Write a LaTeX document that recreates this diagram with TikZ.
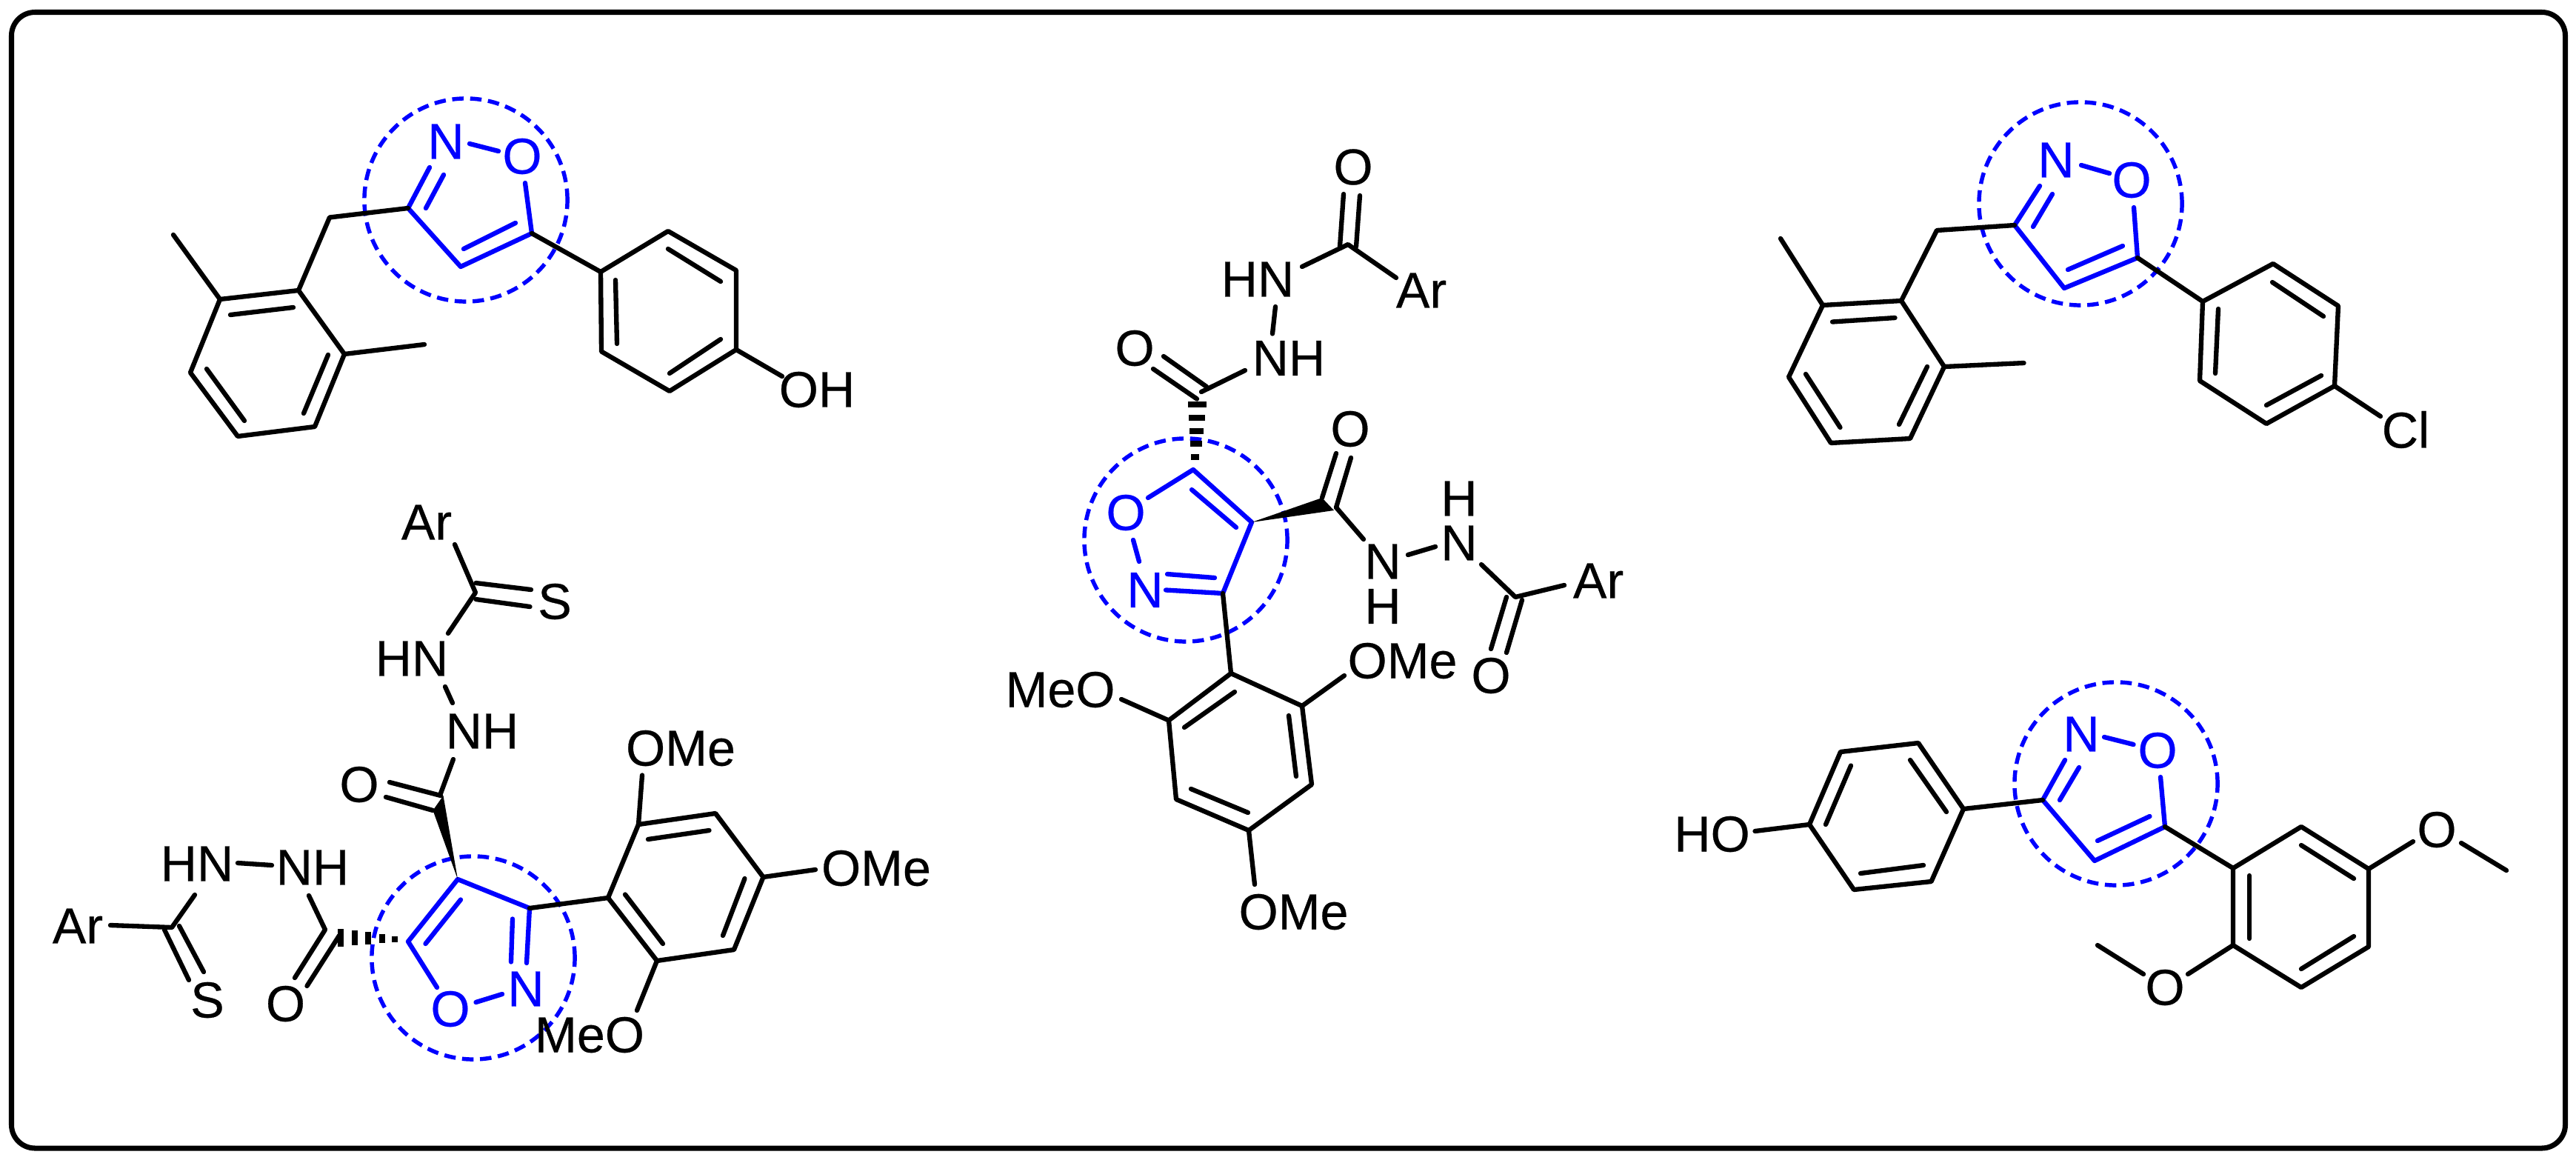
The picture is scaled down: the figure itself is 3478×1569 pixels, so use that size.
\documentclass[tikz,border=0pt]{standalone}
\usepackage{fontspec}
\setmainfont{Liberation Sans}[FakeBold=0.4]
\definecolor{ringblue}{RGB}{0,0,255}
\tikzset{
  bond/.style={line width=1.8pt,line cap=round,line join=round,draw=black},
  rbond/.style={line width=1.8pt,line cap=round,line join=round,draw=ringblue},
  ringmark/.style={line width=1.55pt,draw=ringblue,dash pattern=on 4.4pt off 2.5pt},
  hashbar/.style={line width=2.1pt,draw=black},
  atomk/.style={inner sep=0pt,outer sep=0pt,text=black,font=\fontsize{19.4pt}{19.4pt}\selectfont},
  atomb/.style={atomk,text=ringblue},
  frame/.style={line width=2pt,draw=black,rounded corners=9pt}
}
\begin{document}
\begin{tikzpicture}[x=0.01cm,y=-0.01cm]
\useasboundingbox (0,0) rectangle (3478,1569);
\draw[frame] (15.5,16.5) rectangle (3463.5,1550);

% ---------- dashed rings
\node[ringmark,circle,minimum size=2.74cm,inner sep=0pt] (ra) at (629,270) {};
\node[ringmark,circle,minimum size=2.74cm,inner sep=0pt] (rb) at (639,1293) {};
\node[ringmark,circle,minimum size=2.74cm,inner sep=0pt] (rc) at (1601,729) {};
\node[ringmark,circle,minimum size=2.74cm,inner sep=0pt] (rd) at (2809,275) {};
\node[ringmark,circle,minimum size=2.74cm,inner sep=0pt] (re) at (2857,1058) {};

% ---------- A: top-left molecule
\node[atomb] (aN) at (602,191) {N};
\node[atomb] (aO) at (705,211) {O};
\node[atomk] (aOH) at (1103,526) {OH};
\path (551,281) coordinate (a3) (718,315) coordinate (a5) (622,360) coordinate (a4)
 (445,293.5) coordinate (ach) (403,392) coordinate (a11) (297,404) coordinate (a12)
 (257,503) coordinate (a13) (321,589) coordinate (a14) (425,576) coordinate (a15)
 (465,478) coordinate (a16) (234,317) coordinate (ame1) (573,465) coordinate (ame2)
 (811,367) coordinate (a21) (902,312) coordinate (a22) (994,365) coordinate (a23)
 (994,472) coordinate (a24) (904,528) coordinate (a25) (812,474.5) coordinate (a26)
 (1056,508) coordinate (aoe)
 (634,194) coordinate (ano1) (673,204) coordinate (ano2)
 (580,226) coordinate (acn1) (575,281) coordinate (acn2) (599,236) coordinate (acn3)
 (709,247) coordinate (aoc)
 (626,336) coordinate (acc1) (696,301) coordinate (acc2)
 (311,425) coordinate (ai1) (396,415) coordinate (ai2)
 (279,498) coordinate (ai3) (330,568) coordinate (ai4)
 (410,558) coordinate (ai5) (443,479) coordinate (ai6)
 (902,336) coordinate (ai7) (973,380) coordinate (ai8)
 (831,378) coordinate (ai9) (833,464) coordinate (ai10)
 (904,504) coordinate (ai11) (973,458) coordinate (ai12);
\draw[rbond] (acn1) -- (a3) -- (a4) -- (a5) -- (aoc);
\draw[rbond] (acn2) -- (acn3);
\draw[rbond] (acc1) -- (acc2);
\draw[rbond] (ano1) -- (ano2);
\draw[bond] (a3) -- (ach) -- (a11) -- (a12) -- (a13) -- (a14) -- (a15) -- (a16) -- (a11);
\draw[bond] (a12) -- (ame1);
\draw[bond] (a16) -- (ame2);
\draw[bond] (ai1) -- (ai2);
\draw[bond] (ai3) -- (ai4);
\draw[bond] (ai5) -- (ai6);
\draw[bond] (a5) -- (a21) -- (a22) -- (a23) -- (a24) -- (a25) -- (a26) -- (a21);
\draw[bond] (a24) -- (aoe);
\draw[bond] (ai7) -- (ai8);
\draw[bond] (ai9) -- (ai10);
\draw[bond] (ai11) -- (ai12);

% ---------- B: bottom-left molecule
\node[atomk] (bAr1) at (576,705) {Ar};
\node[atomk] (bS1) at (749,812) {S};
\node[atomk] (bHN1) at (556,889) {HN};
\node[atomk] (bNH1) at (651,987) {NH};
\node[atomk] (bO1) at (485,1059) {O};
\node[atomk] (bHN2) at (266,1166) {HN};
\node[atomk] (bNH2) at (422,1171) {NH};
\node[atomk] (bAr2) at (105,1250) {Ar};
\node[atomk] (bS2) at (280,1350) {S};
\node[atomk] (bO2) at (385.5,1355) {O};
\node[atomb] (bN) at (710,1335) {N};
\node[atomb] (bO) at (608,1362) {O};
\node[atomk] (bOMe1) at (919,1010) {OMe};
\node[atomk] (bOMe2) at (1183,1172) {OMe};
\node[atomk] (bMeO) at (796,1397) {MeO};
\path (618,1187) coordinate (b4) (715,1226) coordinate (b3) (551,1271) coordinate (b5)
 (711,1300) coordinate (bcn1) (692,1240.5) coordinate (bcn2) (690,1298.5) coordinate (bcn3)
 (642.5,1353) coordinate (bno1) (678,1342) coordinate (bno2)
 (590,1333) coordinate (boc)
 (622,1214.5) coordinate (bcc1) (574.5,1274) coordinate (bcc2)
 (614,735) coordinate (bt1) (642,800) coordinate (btc)
 (642.5,787) coordinate (bs1) (717,796) coordinate (bs2)
 (642.5,809) coordinate (bs3) (715.5,819) coordinate (bs4)
 (605,855) coordinate (bt2) (601,927) coordinate (bt3) (611,949) coordinate (bt4)
 (612,1025) coordinate (bt5) (595,1071) coordinate (bt6)
 (526,1056) coordinate (bo1) (595,1074) coordinate (bo2)
 (521,1076) coordinate (bo3) (584.5,1094) coordinate (bo4)
 (598.5,1074) coordinate (bw1)
 (417,1209) coordinate (bl1) (439,1255) coordinate (bl2)
 (398,1320) coordinate (bp1) (458,1263) coordinate (bp2) (414.5,1331) coordinate (bp3)
 (321,1165) coordinate (bl3) (367,1168) coordinate (bl4)
 (263,1208) coordinate (bl5) (232,1252) coordinate (blc) (149,1249) coordinate (bl6)
 (242,1250) coordinate (bq1) (275,1312) coordinate (bq2)
 (222,1255) coordinate (bq3) (255,1323) coordinate (bq4)
 (821,1212) coordinate (b21) (862,1113) coordinate (b22) (966,1098) coordinate (b23)
 (1030.5,1184) coordinate (b24) (991,1282) coordinate (b25) (887,1297) coordinate (b26)
 (875,1133) coordinate (bi1) (957.5,1121) coordinate (bi2)
 (1005.5,1186) coordinate (bi3) (976,1263) coordinate (bi4)
 (895,1274) coordinate (bi5) (844,1207.5) coordinate (bi6)
 (867,1046.5) coordinate (bm1) (1101,1174) coordinate (bm2) (860,1364) coordinate (bm3);
\draw[rbond] (bcn1) -- (b3) -- (b4) -- (b5) -- (boc);
\draw[rbond] (bcn2) -- (bcn3);
\draw[rbond] (bcc1) -- (bcc2);
\draw[rbond] (bno1) -- (bno2);
\fill[black] (b4) -- (bw1) -- (bo4) -- cycle;
\draw[bond] (bt1) -- (btc) -- (bt2);
\draw[bond] (bs1) -- (bs2);
\draw[bond] (bs3) -- (bs4);
\draw[bond] (bt3) -- (bt4);
\draw[bond] (bt5) -- (bt6);
\draw[bond] (bo1) -- (bo2);
\draw[bond] (bo3) -- (bo4);
\draw[bond] (bl1) -- (bl2) -- (bp1);
\draw[bond] (bp2) -- (bp3);
\draw[bond] (bl3) -- (bl4);
\draw[bond] (bl5) -- (blc) -- (bl6);
\draw[bond] (bq1) -- (bq2);
\draw[bond] (bq3) -- (bq4);
\draw[hashbar] (460,1254) -- (460,1278);
\draw[hashbar] (479,1256) -- (479,1276);
\draw[hashbar] (497,1258) -- (497,1275);
\draw[hashbar] (516,1261) -- (516,1273);
\draw[hashbar] (533,1264) -- (533,1272);
\draw[bond] (b3) -- (b21) -- (b22) -- (b23) -- (b24) -- (b25) -- (b26) -- (b21);
\draw[bond] (bi1) -- (bi2);
\draw[bond] (bi3) -- (bi4);
\draw[bond] (bi5) -- (bi6);
\draw[bond] (b22) -- (bm1);
\draw[bond] (b24) -- (bm2);
\draw[bond] (b26) -- (bm3);

% ---------- C: centre molecule
\node[atomk] (cO1) at (1827,225.5) {O};
\node[atomk] (cAr1) at (1919,392) {Ar};
\node[atomk] (cHN) at (1698,377) {HN};
\node[atomk] (cNH) at (1740,483.5) {NH};
\node[atomk] (cO2) at (1532,470) {O};
\node[atomk] (cO3) at (1823,579) {O};
\node[atomk] (cN1) at (1867,758) {N};
\node[atomk] (cH1) at (1867,818.5) {H};
\node[atomk] (cN2) at (1970,733) {N};
\node[atomk] (cH2) at (1970,673) {H};
\node[atomk] (cAr2) at (2158,784) {Ar};
\node[atomk] (cO4) at (2013,912) {O};
\node[atomb] (cO) at (1520,692) {O};
\node[atomb] (cN) at (1546,796.5) {N};
\node[atomk] (cOMe1) at (1893.5,892) {OMe};
\node[atomk] (cMeO) at (1431.5,931) {MeO};
\node[atomk] (cOMe2) at (1746.5,1231) {OMe};
\path (1611,634) coordinate (c5) (1651,801) coordinate (c3) (1690,705) coordinate (c4)
 (1550,672) coordinate (coc) (1530,729) coordinate (cno1) (1538,758) coordinate (cno2)
 (1574,796.5) coordinate (ccn1) (1576,775) coordinate (ccn2) (1640,780) coordinate (ccn3)
 (1609,661) coordinate (ccc1) (1669,712) coordinate (ccc2)
 (1814,262) coordinate (cd1) (1809,333) coordinate (cd2)
 (1836,264) coordinate (cd3) (1831,333) coordinate (cd4)
 (1820,330) coordinate (cc1) (1885,375) coordinate (ce1) (1758,360) coordinate (ce2)
 (1722,414) coordinate (ce3) (1718,450.5) coordinate (ce4)
 (1681,500) coordinate (ce5) (1622,529) coordinate (ce6)
 (1571,481) coordinate (cf1) (1629,522) coordinate (cf2)
 (1557,498) coordinate (cf3) (1616,538.5) coordinate (cf4)
 (1785,672) coordinate (cw1) (1801,689) coordinate (cw2)
 (1804,612) coordinate (cg1) (1824,618) coordinate (cg2) (1804,685) coordinate (cg3)
 (1841,728) coordinate (ch1) (1901,749) coordinate (ch2) (1938,738) coordinate (ch3)
 (2000,762) coordinate (ch4) (2046,806) coordinate (cc2) (2112,790) coordinate (ch5)
 (2034,806) coordinate (cj1) (2013,876) coordinate (cj2)
 (2055,810) coordinate (cj3) (2034,881) coordinate (cj4)
 (1662,909) coordinate (c21) (1758,953) coordinate (c22) (1771,1059) coordinate (c23)
 (1686,1121) coordinate (c24) (1588,1079) coordinate (c25) (1578,972.5) coordinate (c26)
 (1667,934) coordinate (ci1) (1599,982) coordinate (ci2)
 (1740,966) coordinate (ci3) (1750,1048) coordinate (ci4)
 (1685,1097) coordinate (ci5) (1608,1065) coordinate (ci6)
 (1815,912) coordinate (cm1) (1514,944) coordinate (cm2) (1694,1194) coordinate (cm3);
\draw[rbond] (coc) -- (c5) -- (c4) -- (c3) -- (ccn1);
\draw[rbond] (ccn2) -- (ccn3);
\draw[rbond] (ccc1) -- (ccc2);
\draw[rbond] (cno1) -- (cno2);
\fill[black] (c4) -- (cw1) -- (cw2) -- cycle;
\draw[hashbar] (1604,546) -- (1629,546);
\draw[hashbar] (1605,564) -- (1627,564);
\draw[hashbar] (1606,582) -- (1625,582);
\draw[hashbar] (1607,599) -- (1623,599);
\draw[hashbar] (1608,617) -- (1619,617);
\draw[bond] (cd1) -- (cd2);
\draw[bond] (cd3) -- (cd4);
\draw[bond] (ce1) -- (cc1) -- (ce2);
\draw[bond] (ce3) -- (ce4);
\draw[bond] (ce5) -- (ce6);
\draw[bond] (cf1) -- (cf2);
\draw[bond] (cf3) -- (cf4);
\draw[bond] (cg1) -- (cw1);
\draw[bond] (cg2) -- (cg3);
\draw[bond] (cg3) -- (ch1);
\draw[bond] (ch2) -- (ch3);
\draw[bond] (ch4) -- (cc2) -- (ch5);
\draw[bond] (cj1) -- (cj2);
\draw[bond] (cj3) -- (cj4);
\draw[bond] (c3) -- (c21) -- (c22) -- (c23) -- (c24) -- (c25) -- (c26) -- (c21);
\draw[bond] (ci1) -- (ci2);
\draw[bond] (ci3) -- (ci4);
\draw[bond] (ci5) -- (ci6);
\draw[bond] (c22) -- (cm1);
\draw[bond] (c26) -- (cm2);
\draw[bond] (c24) -- (cm3);

% ---------- D: top-right molecule
\node[atomb] (dN) at (2776,216) {N};
\node[atomb] (dO) at (2878,243) {O};
\node[atomk] (dCl) at (3248,580) {Cl};
\path (2720,304) coordinate (d3) (2886,348) coordinate (d5) (2787,389) coordinate (d4)
 (2615,311) coordinate (dch) (2567,406) coordinate (d11) (2461,412) coordinate (d12)
 (2415,509) coordinate (d13) (2472,598) coordinate (d14) (2579,592) coordinate (d15)
 (2625,495) coordinate (d16) (2404,322) coordinate (dme1) (2732.5,490) coordinate (dme2)
 (2974,407) coordinate (d21) (3069,356) coordinate (d22) (3157,413) coordinate (d23)
 (3152,521) coordinate (d24) (3060,572) coordinate (d25) (2970,514) coordinate (d26)
 (3214,562) coordinate (dce)
 (2810,223) coordinate (dno1) (2848,234) coordinate (dno2)
 (2754,251) coordinate (dcn1) (2745,306) coordinate (dcn2) (2771,262) coordinate (dcn3)
 (2881,280) coordinate (doc)
 (2792,364) coordinate (dcc1) (2866,332) coordinate (dcc2)
 (2474,434.5) coordinate (di1) (2558.5,429) coordinate (di2)
 (2438,505) coordinate (di3) (2484.5,577) coordinate (di4)
 (2564,573) coordinate (di5) (2602,495) coordinate (di6)
 (3068,381) coordinate (di7) (3137,427) coordinate (di8)
 (2995,417) coordinate (di9) (2991,504) coordinate (di10)
 (3060,547) coordinate (di11) (3134,507) coordinate (di12);
\draw[rbond] (dcn1) -- (d3) -- (d4) -- (d5) -- (doc);
\draw[rbond] (dcn2) -- (dcn3);
\draw[rbond] (dcc1) -- (dcc2);
\draw[rbond] (dno1) -- (dno2);
\draw[bond] (d3) -- (dch) -- (d11) -- (d12) -- (d13) -- (d14) -- (d15) -- (d16) -- (d11);
\draw[bond] (d12) -- (dme1);
\draw[bond] (d16) -- (dme2);
\draw[bond] (di1) -- (di2);
\draw[bond] (di3) -- (di4);
\draw[bond] (di5) -- (di6);
\draw[bond] (d5) -- (d21) -- (d22) -- (d23) -- (d24) -- (d25) -- (d26) -- (d21);
\draw[bond] (d24) -- (dce);
\draw[bond] (di7) -- (di8);
\draw[bond] (di9) -- (di10);
\draw[bond] (di11) -- (di12);

% ---------- E: bottom-right molecule
\node[atomb] (eN) at (2810,991) {N};
\node[atomb] (eO) at (2913,1013) {O};
\node[atomk] (eHO) at (2311.5,1126) {HO};
\node[atomk] (eO1) at (3290,1120) {O};
\node[atomk] (eO2) at (2923,1333) {O};
\path (2758,1080) coordinate (e3) (2923,1116) coordinate (e5) (2828,1162) coordinate (e4)
 (2651,1092) coordinate (e11) (2590,1003) coordinate (e12) (2485,1015) coordinate (e13)
 (2443,1113) coordinate (e14) (2503,1201) coordinate (e15) (2607.5,1190) coordinate (e16)
 (2369.5,1122) coordinate (ehe)
 (3015,1172) coordinate (e21) (3107,1116) coordinate (e22) (3198,1173) coordinate (e23)
 (3198,1278) coordinate (e24) (3107,1333) coordinate (e25) (3015,1276) coordinate (e26)
 (3258,1136) coordinate (em1) (3323,1138) coordinate (em2) (3384,1175) coordinate (em3)
 (2954,1315) coordinate (em4) (2894,1315) coordinate (em5) (2832,1276) coordinate (em6)
 (2841,995) coordinate (eno1) (2880.5,1005) coordinate (eno2)
 (2788,1026) coordinate (ecn1) (2781,1080) coordinate (ecn2) (2807,1036) coordinate (ecn3)
 (2917,1049) coordinate (eoc)
 (2832,1135) coordinate (ecc1) (2902.5,1102) coordinate (ecc2)
 (2579,1026) coordinate (ei1) (2628,1096) coordinate (ei2)
 (2499,1033.5) coordinate (ei3) (2465,1113) coordinate (ei4)
 (2512,1179) coordinate (ei5) (2597,1168) coordinate (ei6)
 (3107,1141) coordinate (ei7) (3178,1186) coordinate (ei8)
 (3037,1182) coordinate (ei9) (3037,1267) coordinate (ei10)
 (3107,1308) coordinate (ei11) (3178,1264) coordinate (ei12);
\draw[rbond] (ecn1) -- (e3) -- (e4) -- (e5) -- (eoc);
\draw[rbond] (ecn2) -- (ecn3);
\draw[rbond] (ecc1) -- (ecc2);
\draw[rbond] (eno1) -- (eno2);
\draw[bond] (e3) -- (e11) -- (e12) -- (e13) -- (e14) -- (e15) -- (e16) -- (e11);
\draw[bond] (e14) -- (ehe);
\draw[bond] (ei1) -- (ei2);
\draw[bond] (ei3) -- (ei4);
\draw[bond] (ei5) -- (ei6);
\draw[bond] (e5) -- (e21) -- (e22) -- (e23) -- (e24) -- (e25) -- (e26) -- (e21);
\draw[bond] (ei7) -- (ei8);
\draw[bond] (ei9) -- (ei10);
\draw[bond] (ei11) -- (ei12);
\draw[bond] (e23) -- (em1);
\draw[bond] (em2) -- (em3);
\draw[bond] (e26) -- (em4);
\draw[bond] (em5) -- (em6);
\end{tikzpicture}
\end{document}
